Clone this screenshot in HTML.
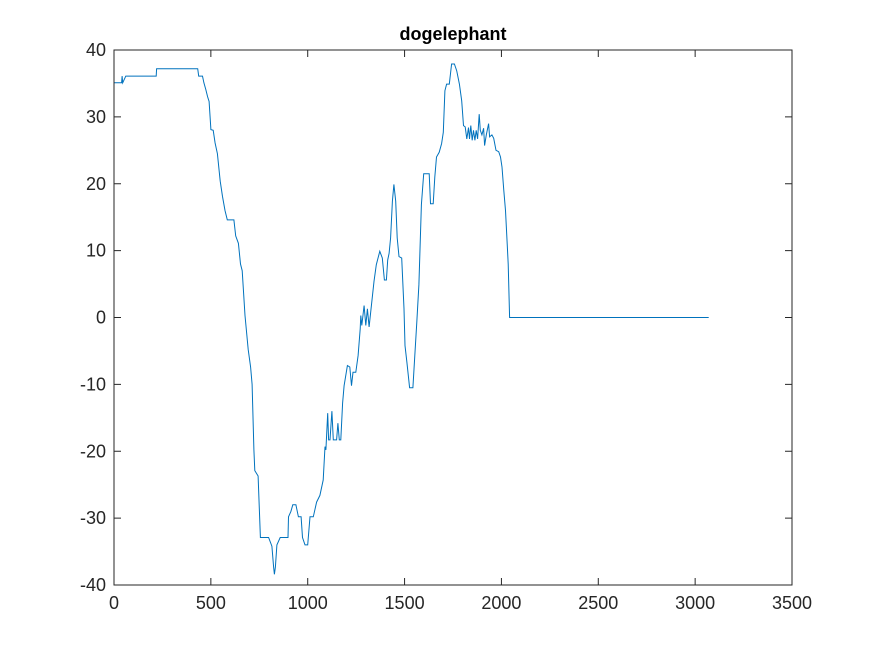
<!DOCTYPE html>
<html><head><meta charset="utf-8"><style>
body{margin:0;background:#fff;}
svg{display:block;font-family:"Liberation Sans",Arial,sans-serif;}
</style></head><body>
<svg id="chart" width="875" height="656" viewBox="0 0 875 656">
<rect x="0" y="0" width="875" height="656" fill="#fff"/>
<g id="plot"></g>
<text x="453" y="40" text-anchor="middle" font-size="18" font-weight="bold" fill="#000">dogelephant</text>
</svg>
<script>
const xTicks=[0,500,1000,1500,2000,2500,3000,3500];
const yTicks=[-40,-30,-20,-10,0,10,20,30,40];
const xs=[0,39,42,45,61,218,220,432,437,457,464,474,483,491,500,512,522,534,548,560,573,585,619,628,642,653,662,676,693,705,713,722,727,744,756,798,815,824,828,833,841,858,898,901,913,923,939,952,966,973,986,1000,1012,1029,1046,1063,1080,1089,1094,1103,1108,1115,1125,1132,1149,1156,1163,1171,1180,1188,1205,1217,1226,1234,1248,1260,1271,1274,1279,1291,1300,1308,1317,1325,1342,1354,1365,1372,1385,1396,1406,1413,1420,1428,1437,1445,1454,1462,1471,1485,1497,1502,1512,1526,1543,1553,1563,1574,1587,1599,1627,1634,1648,1656,1665,1679,1691,1700,1708,1717,1731,1743,1757,1769,1783,1795,1804,1813,1821,1830,1835,1842,1849,1856,1863,1870,1877,1885,1891,1899,1908,1913,1922,1934,1939,1951,1960,1972,1986,1995,2003,2012,2021,2030,2035,2042,3070];
const ys=[35.1,35.1,36.1,35.1,36.1,36.1,37.2,37.2,36.1,36.1,35.1,34.1,33,32.3,28.1,28,26.1,24.5,20.4,18.1,16,14.6,14.6,12.2,11.1,8,7,0.3,-4.8,-7.4,-10,-19.8,-22.9,-23.7,-32.9,-32.9,-34.2,-37.3,-38.4,-37.3,-34,-32.9,-32.9,-29.8,-29,-28,-28,-29.8,-29.8,-32.9,-34,-34,-29.8,-29.8,-27.6,-26.6,-24.3,-19.3,-19.8,-14.3,-18.3,-18.3,-14,-18.3,-18.3,-15.8,-18.3,-18.3,-12.8,-10.2,-7.2,-7.4,-10.2,-8.2,-8.2,-5.7,-1.7,0.3,-1.2,1.8,-1.2,1.3,-1.4,0.8,5.4,7.9,9.1,9.9,8.9,5.6,5.6,8.6,9.6,11.9,17.4,19.9,17.4,11.9,9.1,8.9,1.3,-4.2,-6.7,-10.5,-10.5,-5.7,-0.7,4.9,16.9,21.5,21.5,17,17,21,24,24.7,26,27.7,33.9,34.9,34.9,37.9,37.9,36.9,34.9,32.4,28.7,28.5,26.7,28.4,26.7,28.7,26.5,28,26.5,28,26.7,30.4,28,27.3,28.3,25.7,27.3,29,27,27.3,26.8,25,24.8,24,22.5,19,16,11,8,0,0];
const X0=114,X1=792,Y0=585,Y1=50;
const sx=v=>X0+(v-0)/(3500-0)*(X1-X0);
const sy=v=>Y0-(v+40)/80*(Y0-Y1);
const g=document.getElementById('plot');
const NS='http://www.w3.org/2000/svg';
function mk(t,a){const e=document.createElementNS(NS,t);for(const k in a)e.setAttribute(k,a[k]);g.appendChild(e);return e;}
// line
let d='';xs.forEach((x,i)=>{d+=(i?'L':'M')+sx(x).toFixed(1)+','+sy(ys[i]).toFixed(1);});
const line=mk('path',{d:d,fill:'none',stroke:'#0072bd','stroke-width':1});


// axes box
const box=mk('rect',{x:X0,y:Y1,width:X1-X0,height:Y0-Y1,fill:'none',stroke:'#262626','stroke-width':1});


xTicks.forEach(v=>{
  const x=sx(v);
  mk('line',{x1:x,y1:Y0,x2:x,y2:Y0-7,stroke:'#262626'});
  mk('line',{x1:x,y1:Y1,x2:x,y2:Y1+7,stroke:'#262626'});
  const t=mk('text',{x:x,y:Y0+24,'text-anchor':'middle','font-size':18,fill:'#262626'});
  t.textContent=v;
  
  
});
yTicks.forEach(v=>{
  const y=sy(v);
  mk('line',{x1:X0,y1:y,x2:X0+7,y2:y,stroke:'#262626'});
  mk('line',{x1:X1,y1:y,x2:X1-7,y2:y,stroke:'#262626'});
  const t=mk('text',{x:X0-8,y:y+6,'text-anchor':'end','font-size':18,fill:'#262626'});
  t.textContent=v;
  
  
});
</script>
</body></html>
